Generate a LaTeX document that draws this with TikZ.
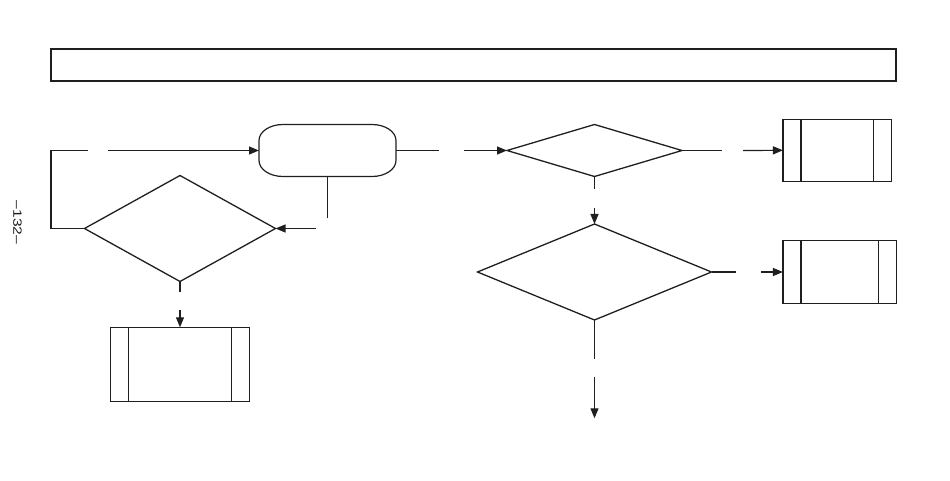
\documentclass[tikz,border=0pt]{standalone}
\usepackage{fontspec}
\usepackage{graphicx}
\setmainfont{Liberation Sans}
\usetikzlibrary{arrows.meta,shapes.geometric}
\newcommand\pplines[1]{%
  \draw[ink] ([xshift=18pt]#1.north west) -- ([xshift=18pt]#1.south west);
  \draw[ink] ([xshift=-18pt]#1.north east) -- ([xshift=-18pt]#1.south east);}
\begin{document}
\begin{tikzpicture}[x=1pt,y=-1pt,
  ink/.style={draw=black!88, line width=1.2pt},
  line/.style={ink},
  arr/.style={ink, -{Triangle[length=10pt,width=8pt]}},
  dia/.style={diamond, ink, line width=1.3pt, inner sep=0pt, outer sep=0pt},
  frame/.style={rectangle, draw=black!88, line width=1.4pt, inner sep=0pt},
  ppbox/.style={rectangle, ink, inner sep=0pt, outer sep=0pt},
  term/.style={rectangle, inner sep=0pt, outer sep=0pt, minimum width=137pt, minimum height=52pt}
]
\useasboundingbox (0,0) rectangle (950,481);

% page number
\node[rotate=-90, inner sep=0pt, font=\fontsize{12}{14}\selectfont, text=black!90] (pg) at (17.5,222.5) {\scalebox{1.3}[1]{\textendash132\textendash}};

% top frame
\node[frame, minimum width=845pt, minimum height=32pt] (top) at (473.5,65) {};

% terminal
\node[term] (tm) at (327.5,150.5) {};
\draw[ink] (283,124.5) -- (372,124.5)
  arc[start angle=-90, end angle=0, x radius=24, y radius=16] -- (396,160.5)
  arc[start angle=0, end angle=90, x radius=24, y radius=16] -- (283,176.5)
  arc[start angle=90, end angle=180, x radius=24, y radius=16] -- (259,140.5)
  arc[start angle=180, end angle=270, x radius=24, y radius=16] -- cycle;

% diamonds
\node[dia, minimum width=191pt, minimum height=106pt] (d1) at (180,228.5) {};
\node[dia, minimum width=175pt, minimum height=52pt] (d2) at (594.5,150.5) {};
\node[dia, minimum width=234pt, minimum height=96pt] (d3) at (594.5,272) {};

% predefined process boxes
\node[ppbox, minimum width=139.5pt, minimum height=74pt] (p1) at (180,364.3) {};
\node[ppbox, minimum width=108.7pt, minimum height=62pt] (b1) at (837.3,150.3) {};
\node[ppbox, minimum width=113.7pt, minimum height=63pt] (b2) at (839.8,272) {};
\pplines{p1}
\pplines{b1}
\pplines{b2}

% connector coordinates
\coordinate (l1) at (51,228.5);
\coordinate (l2) at (51,150.5);
\coordinate (l3) at (88,150.5);
\coordinate (l4) at (108,150.5);
\coordinate (t1) at (327.5,218);
\coordinate (t2) at (316,228.5);
\coordinate (e1) at (439,150.5);
\coordinate (e2) at (464,150.5);
\coordinate (r1) at (722,150.5);
\coordinate (r2) at (743,150.5);
\coordinate (s1) at (594.5,189.3);
\coordinate (s2) at (594.5,207.7);
\coordinate (q1) at (735.7,272);
\coordinate (q2) at (761,272);
\coordinate (u1) at (594.5,359);
\coordinate (u2) at (594.5,376.7);
\coordinate (u3) at (594.5,418.3);
\coordinate (v1) at (180,292);
\coordinate (v2) at (180,310);

% connectors
\draw[line] (d1.west) -- (l1) -- (l2) -- (l3);
\draw[arr] (l4) -- (tm.west);
\draw[line] (tm.south) -- (t1);
\draw[arr] (t2) -- (d1.east);
\draw[line] (tm.east) -- (e1);
\draw[arr] (e2) -- (d2.west);
\draw[line] (d2.east) -- (r1);
\draw[arr] (r2) -- (b1.west);
\draw[line] (d2.south) -- (s1);
\draw[arr] (s2) -- (d3.north);
\draw[line] (d3.east) -- (q1);
\draw[arr] (q2) -- (b2.west);
\draw[line] (d3.south) -- (u1);
\draw[arr] (u2) -- (u3);
\draw[line] (d1.south) -- (v1);
\draw[arr] (v2) -- (p1.north);
\end{tikzpicture}
\end{document}
